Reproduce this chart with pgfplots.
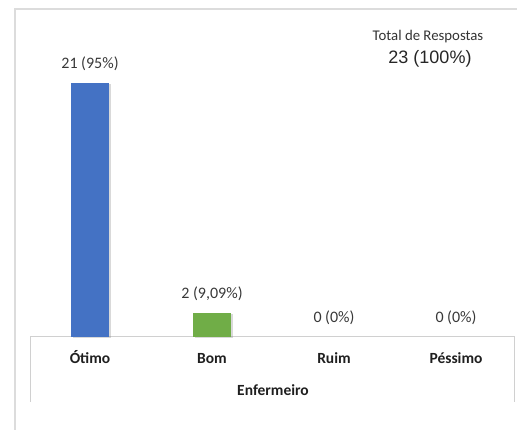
\documentclass[border=0pt]{standalone}
\usepackage{fontspec}
\setmainfont{Carlito}
\newfontfamily\arialf{Liberation Sans}
\usepackage{pgfplots}
\pgfplotsset{compat=1.18}
\usetikzlibrary{shadows}
\definecolor{barblue}{HTML}{4472C4}
\definecolor{bargreen}{HTML}{70AD47}
\definecolor{framegray}{HTML}{DCDCDC}
\definecolor{tablegray}{HTML}{D0D0D0}
\begin{document}
\begin{tikzpicture}[x=1pt,y=1pt]
\path[use as bounding box] (0,0) rectangle (517,430);
\draw[framegray, line width=1.5pt] (15,0) -- (15,421) -- (517,421);
\draw[tablegray, line width=1pt] (30,28) -- (30,93) -- (514,93) -- (514,28);
\begin{axis}[
  at={(29pt,93pt)}, anchor=south west,
  scale only axis, width=488pt, height=317pt,
  xmin=-0.5, xmax=3.5, ymin=0, ymax=26.2,
  axis line style={draw=none},
  ytick=\empty,
  xtick={0,1,2,3},
  xticklabels={Ótimo,Bom,Ruim,Péssimo},
  major tick length=0pt,
  xticklabel style={font=\fontsize{15.5}{17}\selectfont\bfseries, text=black!88, anchor=base, yshift=-27pt},
  xlabel={Enfermeiro},
  xlabel style={at={(axis description cs:0.5,0)}, anchor=base, yshift=-59pt, font=\fontsize{15.5}{17}\selectfont\bfseries, text=black!88},
  clip=false,
  ybar, bar width=38pt, bar shift=0pt,
  nodes near coords={\pgfplotspointmeta},
  point meta=explicit symbolic,
  nodes near coords style={font=\fontsize{16}{18}\selectfont, text=black!78, anchor=south, inner sep=0pt, yshift=12pt},
]
\addplot[fill=barblue, draw=none, drop shadow={shadow xshift=2pt, shadow yshift=-1pt, opacity=0.3}] coordinates {(0,21) [21 (95\%)]};
\addplot[fill=bargreen, draw=none, drop shadow={shadow xshift=2pt, shadow yshift=-1pt, opacity=0.3}] coordinates {(1,2) [2 (9{,}09\%)]};
\addplot[fill=none, draw=none] coordinates {(2,0) [0 (0\%)] (3,0) [0 (0\%)]};
\end{axis}
\node[font=\fontsize{14.8}{16}\selectfont, text=black!80] at (428,393) {Total de Respostas};
\node[font=\arialf\fontsize{18}{20}\selectfont, text=black!85] at (430,371) {23 (100\%)};
\end{tikzpicture}
\end{document}
